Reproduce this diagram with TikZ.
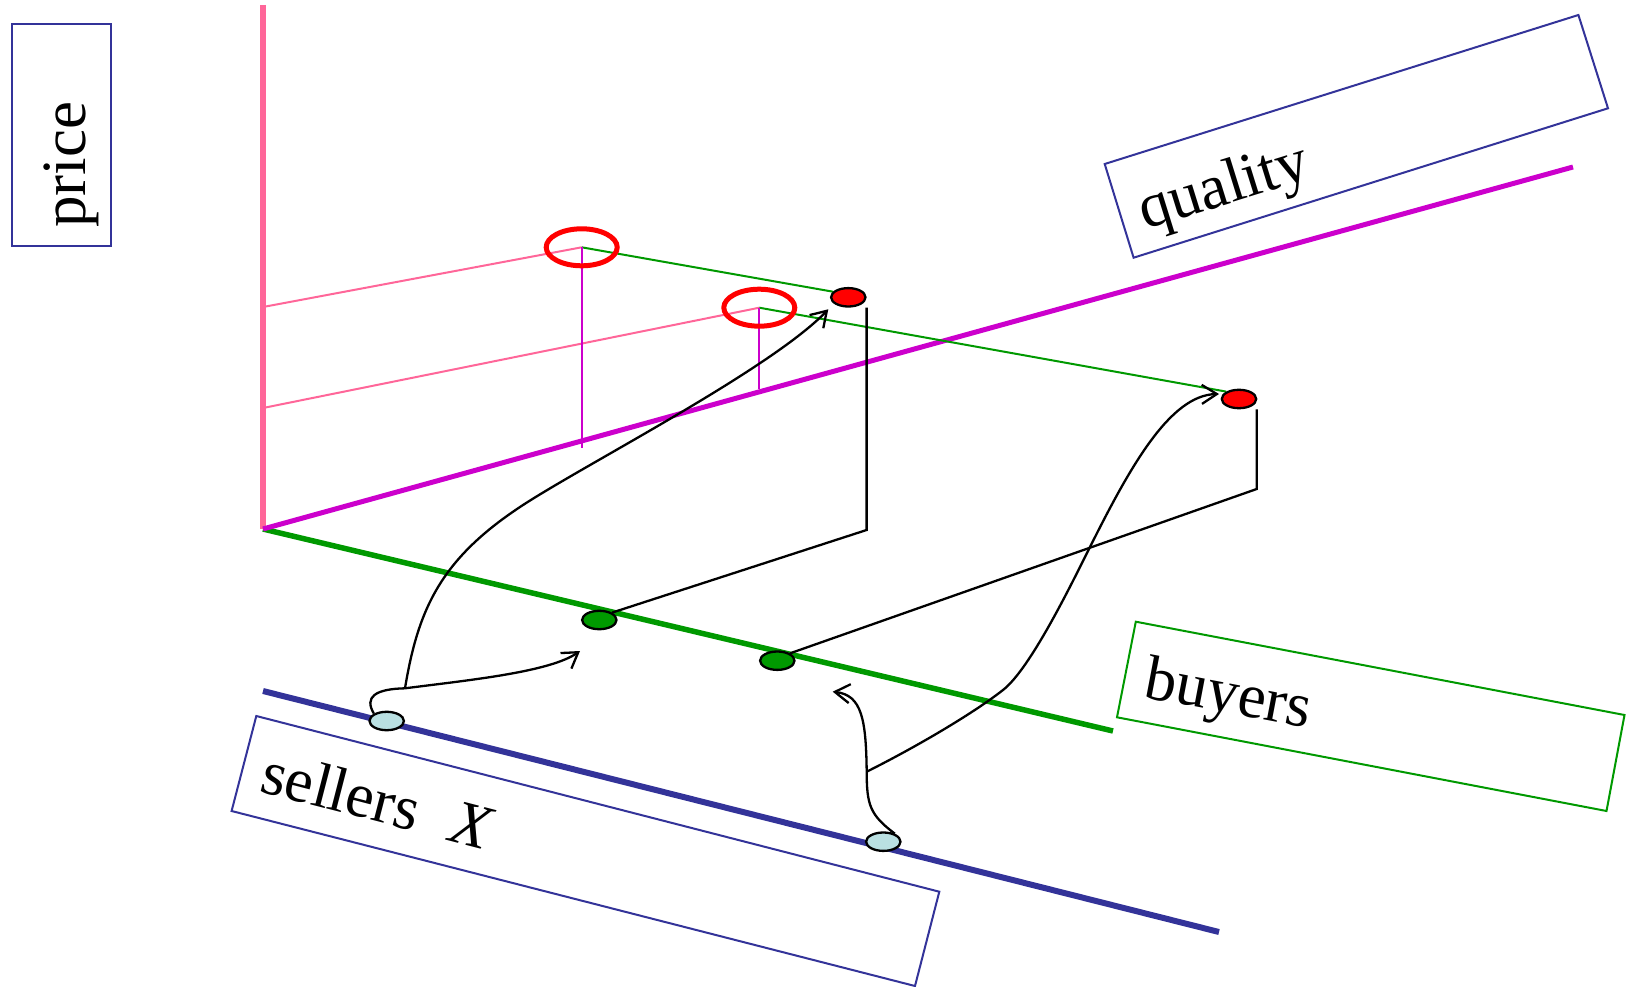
\documentclass[tikz,border=0pt]{standalone}
\usepackage{fontspec}
\setmainfont{Liberation Serif}
\usetikzlibrary{arrows.meta,shapes.geometric,backgrounds}
\definecolor{axpink}{RGB}{255,102,153}
\definecolor{axmag}{RGB}{204,0,204}
\definecolor{axgreen}{RGB}{0,153,0}
\definecolor{axnavy}{RGB}{51,51,153}
\definecolor{dotcyan}{RGB}{186,224,226}
\begin{document}
\begin{tikzpicture}[x=1pt,y=-1pt,
  lbl/.style={font=\fontsize{63}{75}\selectfont, inner sep=0pt, anchor=base west},
  dotnode/.style={ellipse, draw=black, line width=2.3pt, minimum width=34.4pt, minimum height=18.4pt, inner sep=0pt},
  ring/.style={ellipse, draw=red, line width=5pt, minimum width=71pt, minimum height=37pt, inner sep=0pt},
  conn/.style={draw=black, line width=2.3pt},
  arr/.style={conn, -{Straight Barb[length=15pt,width=19pt]}},
  thinline/.style={line width=2pt},
  frame/.style={line width=2pt}]

\useasboundingbox (0,0) rectangle (1634,987);

% dots and rings
\node[ring] (E1) at (581.7,247.3) {};
\node[ring] (E2) at (759.3,307.7) {};
\node[dotnode, fill=red] (R1) at (848.3,297.3) {};
\node[dotnode, fill=red] (R2) at (1239,399) {};
\node[dotnode, fill=axgreen] (G1) at (599.3,620) {};
\node[dotnode, fill=axgreen] (G2) at (777.3,660.7) {};
\node[dotnode, fill=dotcyan] (S1) at (386.7,721) {};
\node[dotnode, fill=dotcyan] (S2) at (883.3,841.7) {};

% labels
\node[lbl, rotate=90] (price) at (85,228) {price};
\node[lbl, rotate=17.3] (quality) at (1145,230) {quality};
\node[lbl, rotate=-10.8] (buyers) at (1142,697) {buyers};
\node[lbl, rotate=-14.5] (sellers) at (258,791) {sellers\hspace{0.55em}\textit{X}};

% coordinates
\coordinate (O) at (263,529);
\coordinate (pTop) at (263,5);
\coordinate (qEnd) at (1573,167);
\coordinate (bEnd) at (1113,731);
\coordinate (sStart) at (263,691);
\coordinate (sEnd) at (1219,932);
\coordinate (pk1) at (263,307);
\coordinate (pk2) at (263,408);
\coordinate (m1) at (581.7,448);
\coordinate (m2) at (759.3,389);
\coordinate (J1) at (405,688.3);
\coordinate (M1) at (520,507);
\coordinate (a1) at (580,651);
\coordinate (t1) at (828.3,309.3);
\coordinate (J2) at (866.7,771.7);
\coordinate (Q2) at (1003,690);
\coordinate (P2) at (1090,547);
\coordinate (a2) at (832.7,691.7);
\coordinate (t2) at (1219,394);
\coordinate (k1) at (866.6,530);
\coordinate (k2) at (1256.7,489);

\begin{pgfonlayer}{background}
% frames
\draw[frame, axnavy] (12,24) rectangle (111,246);
\draw[frame, axnavy] (1104.7,164) -- (1578.4,15) -- (1608,108.3) -- (1133.6,257.7) -- cycle;
\draw[frame, axgreen] (1135.8,621.7) -- (1624.5,715) -- (1606.5,811) -- (1117,717.3) -- cycle;
\draw[frame, axnavy] (256.3,716) -- (939.3,891.7) -- (915,986) -- (231.6,811) -- cycle;

% axes
\draw[axpink, line width=5.5pt] (pTop) -- (O);
\draw[axgreen, line width=5.5pt] (O) -- (bEnd);
\draw[axmag, line width=5pt] (O) -- (qEnd);
\draw[axnavy, line width=6pt] (sStart) -- (sEnd);

% thin guide lines
\draw[thinline, axpink] (pk1) -- (E1.center);
\draw[thinline, axpink] (pk2) -- (E2.center);
\draw[thinline, axgreen] (E1.center) -- (R1.160);
\draw[thinline, axgreen] (E2.center) -- (R2.150);
\draw[thinline, axmag] (E1.center) -- (m1);
\draw[thinline, axmag] (E2.center) -- (m2);

% black connectors
\draw[conn] (G1.30) -- (k1) -- (k1 |- R1.south);
\draw[conn] (G2.30) -- (k2) -- (k2 |- R2.south);

% curved arrows
\draw[arr] (S1.150) .. controls (364,697) and (375,689) .. (J1) .. controls (470,680) and (550,672) .. (a1);
\draw[arr] (J1) .. controls (418,610) and (440,560) .. (M1) .. controls (580,467) and (770,370) .. (t1);
\draw[arr] (S2.35) .. controls (870,815) and (866.7,805) .. (J2) .. controls (866,720) and (862,695) .. (a2);
\draw[arr] (J2) .. controls (920,745) and (975,712) .. (Q2) .. controls (1030,669) and (1070,587) .. (P2) .. controls (1130,467) and (1170,395) .. (t2);
\end{pgfonlayer}
\end{tikzpicture}
\end{document}
